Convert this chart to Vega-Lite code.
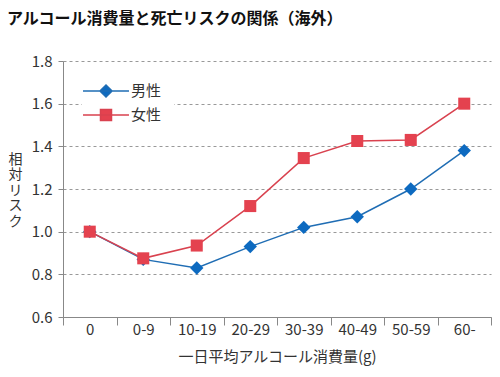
{
  "$schema": "https://vega.github.io/schema/vega-lite/v6.json",
  "autosize": "none",
  "width": 428,
  "height": 256,
  "padding": {"left": 63, "top": 61, "right": 9, "bottom": 60},
  "background": "white",
  "config": {
    "font": "Noto Sans CJK JP",
    "view": {"stroke": null},
    "axis": {"labelFont": "Noto Sans CJK JP", "titleFont": "Noto Sans CJK JP"}
  },
  "title": {
    "text": "アルコール消費量と死亡リスクの関係（海外）",
    "anchor": "start",
    "frame": "group",
    "dx": -56,
    "offset": 27,
    "fontSize": 16,
    "fontWeight": "bold",
    "color": "#111"
  },
  "data": {
    "values": [
      {"amount": "0", "sex": "男性", "risk": 1.0},
      {"amount": "0-9", "sex": "男性", "risk": 0.87},
      {"amount": "10-19", "sex": "男性", "risk": 0.83},
      {"amount": "20-29", "sex": "男性", "risk": 0.93},
      {"amount": "30-39", "sex": "男性", "risk": 1.02},
      {"amount": "40-49", "sex": "男性", "risk": 1.07},
      {"amount": "50-59", "sex": "男性", "risk": 1.2},
      {"amount": "60-", "sex": "男性", "risk": 1.38},
      {"amount": "0", "sex": "女性", "risk": 1.0},
      {"amount": "0-9", "sex": "女性", "risk": 0.875},
      {"amount": "10-19", "sex": "女性", "risk": 0.935},
      {"amount": "20-29", "sex": "女性", "risk": 1.12},
      {"amount": "30-39", "sex": "女性", "risk": 1.345},
      {"amount": "40-49", "sex": "女性", "risk": 1.425},
      {"amount": "50-59", "sex": "女性", "risk": 1.43},
      {"amount": "60-", "sex": "女性", "risk": 1.6}
    ]
  },
  "encoding": {
    "x": {
      "field": "amount",
      "type": "nominal",
      "sort": null,
      "scale": {"paddingInner": 0, "paddingOuter": 0},
      "axis": {
        "title": "一日平均アルコール消費量(g)",
        "labelAngle": 0,
        "labelFontSize": 15,
        "labelColor": "#333",
        "labelPadding": -3,
        "tickBand": "extent",
        "tickSize": 8,
        "tickColor": "#888",
        "domainColor": "#888",
        "titleFontSize": 15,
        "titleFontWeight": "normal",
        "titleColor": "#333",
        "titlePadding": 12,
        "grid": false
      }
    },
    "y": {
      "field": "risk",
      "type": "quantitative",
      "scale": {"domain": [0.6, 1.8]},
      "axis": {
        "values": [0.6, 0.8, 1.0, 1.2, 1.4, 1.6, 1.8],
        "format": ".1f",
        "title": ["相", "対", "リ", "ス", "ク"],
        "titleAngle": 0,
        "titleX": -48,
        "titleY": 91,
        "titleAlign": "center",
        "titleBaseline": "top",
        "titleLineHeight": 15.5,
        "titleFontSize": 14,
        "titleFontWeight": "normal",
        "titleColor": "#333",
        "labelFontSize": 15,
        "labelColor": "#333",
        "labelPadding": 6,
        "tickSize": 5,
        "tickColor": "#888",
        "domainColor": "#888",
        "grid": true,
        "gridColor": "#999",
        "gridDash": [3, 3],
        "gridWidth": 1
      }
    }
  },
  "layer": [
    {
      "mark": {"type": "line", "strokeWidth": 1.5},
      "encoding": {
        "color": {
          "field": "sex",
          "type": "nominal",
          "scale": {"domain": ["男性", "女性"], "range": ["#1f6db4", "#d9424f"]},
          "legend": {
            "title": null,
            "orient": "none",
            "legendX": 19,
            "legendY": 6,
            "padding": 12,
            "labelFontSize": 15,
            "labelColor": "#333",
            "labelOffset": 13,
            "symbolSize": 484,
            "symbolStrokeWidth": 1.5,
            "rowPadding": 2,
            "fillColor": "white",
            "encode": {
              "symbols": {
                "update": {
                  "shape": {"signal": "datum.value == '男性' ? 'M-2.09,0H2.09M0,-0.55L0.55,0L0,0.55L-0.55,0Z' : 'M-2.09,0H2.09M-0.5,-0.5H0.5V0.5H-0.5Z'"},
                  "fill": {"signal": "datum.value == '男性' ? '#0d6ac0' : '#e4424f'"},
                  "fillOpacity": {"value": 1}
                }
              }
            }
          }
        }
      }
    },
    {
      "transform": [{"filter": "datum.sex == '男性'"}],
      "mark": {"type": "point", "filled": true, "opacity": 1, "shape": "diamond", "size": 180, "color": "#0d6ac0"}
    },
    {
      "transform": [{"filter": "datum.sex == '女性'"}],
      "mark": {"type": "point", "filled": true, "opacity": 1, "shape": "square", "size": 145, "color": "#e4424f"}
    }
  ]
}
